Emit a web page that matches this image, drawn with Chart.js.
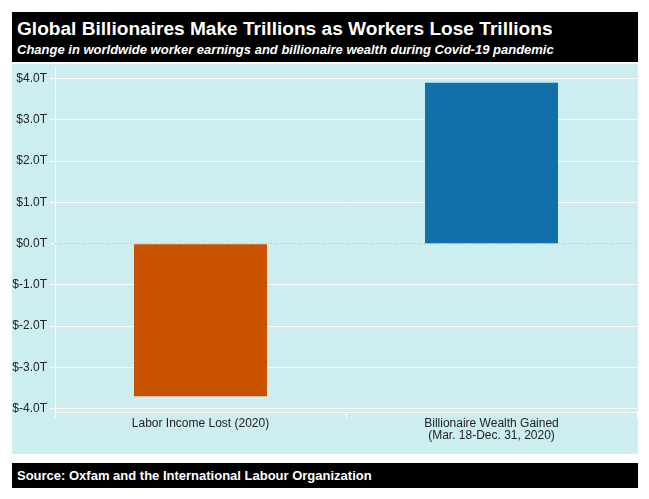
<!DOCTYPE html>
<html>
<head>
<meta charset="utf-8">
<script src="https://cdn.jsdelivr.net/npm/chart.js@4"></script>
<style>
  body { margin: 0; background: #fff; font-family: "Liberation Sans", Arial, sans-serif; }
  #title { position: absolute; left: 12px; top: 12px; width: 626px; height: 50px; background: #000; color: #fff; }
  #title .main { position: absolute; left: 5px; top: 6px; font-size: 19.1px; font-weight: bold; }
  #title .sub { position: absolute; left: 5px; top: 30px; font-size: 13px; font-weight: bold; font-style: italic; }
  #panel { position: absolute; left: 12px; top: 64px; width: 626px; height: 390px; background: #cdeef0; }
  #source { position: absolute; left: 12px; top: 463px; width: 626px; height: 25px; background: #000; color: #fff; font-size: 13px; font-weight: bold; }
  #source span { position: absolute; left: 5px; top: 5px; }
</style>
</head>
<body>
<div id="title">
  <div class="main">Global Billionaires Make Trillions as Workers Lose Trillions</div>
  <div class="sub">Change in worldwide worker earnings and billionaire wealth during Covid-19 pandemic</div>
</div>
<div id="panel"><canvas id="chart" width="626" height="390"></canvas></div>
<div id="source"><span>Source: Oxfam and the International Labour Organization</span></div>
<script>
const categories = ['Labor Income Lost (2020)', ['Billionaire Wealth Gained', '(Mar. 18-Dec. 31, 2020)']];
const changeTrillions = [-3.7, 3.9];
const barColors = ['#c85200', '#1170aa'];

// dotted line at zero, drawn under the bars
const zeroLine = {
    id: 'zeroLine',
    beforeDatasetsDraw(chart) {
        const y = chart.scales.y.getPixelForValue(0);
        const area = chart.chartArea;
        const ctx = chart.ctx;
        ctx.save();
        ctx.strokeStyle = '#b4b4b4';
        ctx.lineWidth = 1;
        ctx.setLineDash([1, 2]);
        ctx.beginPath();
        ctx.moveTo(area.left, y);
        ctx.lineTo(area.right, y);
        ctx.stroke();
        ctx.restore();
    }
};

const ctx = document.getElementById('chart').getContext('2d');
const myChart = new Chart(ctx, {
    type: 'bar',
    data: {
        labels: categories,
        datasets: [{
            data: changeTrillions,
            backgroundColor: barColors,
            borderWidth: 0,
            barPercentage: 0.457,
            categoryPercentage: 1
        }]
    },
    options: {
        responsive: false,
        animation: false,
        layout: { padding: { top: 1, right: 1, left: 0, bottom: 0 } },
        plugins: { legend: { display: false }, tooltip: { enabled: false } },
        scales: {
            y: {
                min: -4.08,
                max: 4.28,
                afterFit(scale) { scale.width = 43; },
                ticks: {
                    stepSize: 1,
                    includeBounds: false,
                    color: '#222',
                    padding: 3,
                    font: { family: 'Liberation Sans', size: 12, lineHeight: 0.01 },
                    callback: v => '$' + v.toFixed(1) + 'T'
                },
                grid: {
                    color: c => c.tick && c.tick.value === 0 ? 'rgba(0,0,0,0)' : '#ffffff',
                    lineWidth: 1,
                    tickColor: '#ffffff',
                    tickLength: 5
                },
                border: { color: '#ffffff', width: 1 }
            },
            x: {
                afterFit(scale) { scale.height = 42; },
                ticks: {
                    color: '#222',
                    padding: -1,
                    font: { family: 'Liberation Sans', size: 12, lineHeight: 1.05 }
                },
                grid: {
                    drawOnChartArea: false,
                    tickColor: '#ffffff',
                    tickLength: 6
                },
                border: { color: '#ffffff', width: 1 }
            }
        }
    },
    plugins: [zeroLine]
});
</script>
</body>
</html>
